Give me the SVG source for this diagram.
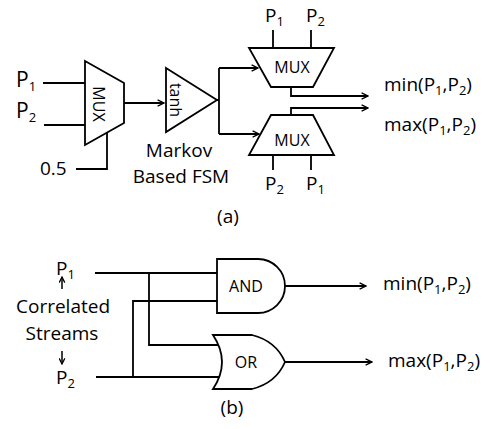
<svg xmlns="http://www.w3.org/2000/svg" width="491" height="429" viewBox="0 0 491 429">
<defs>
<marker id="arr" viewBox="0 0 10 10" refX="9" refY="5" markerWidth="8" markerHeight="8" markerUnits="userSpaceOnUse" orient="auto">
<path d="M1,1 L9,5 L1,9" fill="none" stroke="#000" stroke-width="1.7"/>
</marker>
<marker id="sarr" viewBox="0 0 10 10" refX="9" refY="5" markerWidth="7" markerHeight="7" markerUnits="userSpaceOnUse" orient="auto">
<path d="M1,1 L9,5 L1,9" fill="none" stroke="#000" stroke-width="1.8"/>
</marker>
</defs>
<style>
.w{fill:none;stroke:#000;stroke-width:1.8}
.g{fill:#fff;stroke:#000;stroke-width:1.8}
text{font-family:"Open Sans","Liberation Sans",sans-serif;font-weight:500;fill:#000}
.l{font-size:19px}
.big{font-size:21px}
.s{font-size:16px}
.sub{font-size:13px}
</style>
<rect width="491" height="429" fill="#fff"/>
<g id="connectors">
<path class="w" d="M43,83 H85"/>
<path class="w" d="M44,125 H85"/>
<path class="w" d="M76,169 H107 V133"/>
<path class="w" d="M124,103 H164" marker-end="url(#arr)"/>
<path class="w" d="M217,100 H219 M219,68 V134"/>
<path class="w" d="M219,68 H258" marker-end="url(#arr)"/>
<path class="w" d="M219,134 H259" marker-end="url(#arr)"/>
<path class="w" d="M273,30 V48 M311,30 V48"/>
<path class="w" d="M273,155 V170 M311,155 V170"/>
<path class="w" d="M291,87 V96 H368" marker-end="url(#arr)"/>
<path class="w" d="M291,115 V108 H368" marker-end="url(#arr)"/>
<path class="w" d="M95,273 H217"/>
<path class="w" d="M149,273 V345 H218"/>
<path class="w" d="M96,377 H219"/>
<path class="w" d="M133,377 V301 H217"/>
<path class="w" d="M285,286 H366" marker-end="url(#arr)"/>
<path class="w" d="M285,362 H372" marker-end="url(#arr)"/>
<path class="w" style="stroke-width:1.5" d="M62,289 V277" marker-end="url(#sarr)"/>
<path class="w" style="stroke-width:1.5" d="M62,351 V364" marker-end="url(#sarr)"/>
</g>
<g id="mux1">
<path class="g" d="M85,61 L124,83 L124,123 L85,145 Z"/>
<text class="s" transform="translate(99,104) rotate(90)" text-anchor="middle" dy="6">MUX</text>
</g>
<g id="tanh">
<path class="g" d="M166,68 L217,100 L166,132 Z"/>
<text class="s" transform="translate(175,100) rotate(90)" text-anchor="middle" dy="5">tanh</text>
</g>
<g id="mux-top">
<path class="g" d="M249,48 L334,48 L313,87 L271,87 Z"/>
<text class="s" x="292" y="73" text-anchor="middle">MUX</text>
</g>
<g id="mux-bottom">
<path class="g" d="M271,115 L313,115 L334,155 L249,155 Z"/>
<text class="s" x="292" y="146" text-anchor="middle">MUX</text>
</g>
<g id="and">
<path class="g" d="M217,259 H258 A27,27 0 0 1 258,313 H217 Z"/>
<text class="s" x="246" y="292" text-anchor="middle">AND</text>
</g>
<g id="or">
<path class="g" d="M213,335 H252 Q276,341 285,362 Q276,383 252,389 H213 Q231,362 213,335 Z"/>
<text class="s" x="246" y="368" text-anchor="middle">OR</text>
</g>
<g id="labels">
<text class="big" x="16" y="87">P<tspan class="sub" dy="4">1</tspan></text>
<text class="big" x="16" y="118">P<tspan class="sub" dy="4">2</tspan></text>
<text class="l" x="40" y="175">0.5</text>
<text class="l" x="179" y="157" text-anchor="middle">Markov</text>
<text class="l" x="181" y="183" text-anchor="middle">Based FSM</text>
<text class="l" x="265" y="22">P<tspan class="sub" dy="4">1</tspan></text>
<text class="l" x="306" y="22">P<tspan class="sub" dy="4">2</tspan></text>
<text class="l" x="265" y="190">P<tspan class="sub" dy="4">2</tspan></text>
<text class="l" x="306" y="190">P<tspan class="sub" dy="4">1</tspan></text>
<text class="l" x="384" y="91">min(P<tspan class="sub" dy="4">1</tspan><tspan dy="-4">,P</tspan><tspan class="sub" dy="4">2</tspan><tspan dy="-4">)</tspan></text>
<text class="l" x="384" y="131">max(P<tspan class="sub" dy="4">1</tspan><tspan dy="-4">,P</tspan><tspan class="sub" dy="4">2</tspan><tspan dy="-4">)</tspan></text>
<text class="l" x="228" y="223" text-anchor="middle">(a)</text>
<text class="l" x="56" y="275">P<tspan class="sub" dy="4">1</tspan></text>
<text class="l" x="63" y="313" text-anchor="middle">Correlated</text>
<text class="l" x="62" y="340" text-anchor="middle">Streams</text>
<text class="l" x="56" y="384">P<tspan class="sub" dy="4">2</tspan></text>
<text class="l" x="383" y="290">min(P<tspan class="sub" dy="4">1</tspan><tspan dy="-4">,P</tspan><tspan class="sub" dy="4">2</tspan><tspan dy="-4">)</tspan></text>
<text class="l" x="388" y="367">max(P<tspan class="sub" dy="4">1</tspan><tspan dy="-4">,P</tspan><tspan class="sub" dy="4">2</tspan><tspan dy="-4">)</tspan></text>
<text class="l" x="232" y="414" text-anchor="middle">(b)</text>
</g>
</svg>
